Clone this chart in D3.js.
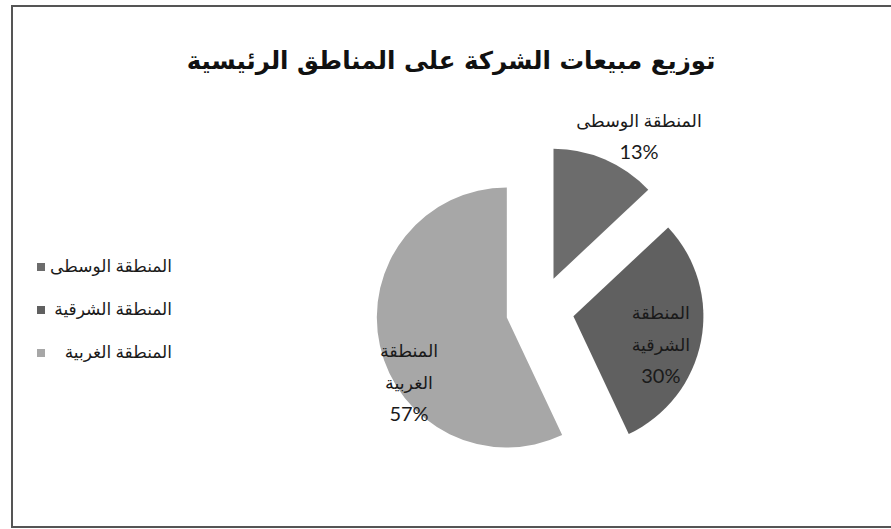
<!DOCTYPE html>
<html>
<head>
<meta charset="utf-8">
<script src="https://cdn.jsdelivr.net/npm/d3@7"></script>
<style>
  body { margin: 0; background: #fff; }
  #chart { width: 891px; height: 529px; }
</style>
</head>
<body>
<div id="chart"></div>
<script>
// chart data
const regions = ["المنطقة الوسطى", "المنطقة الشرقية", "المنطقة الغربية"];
const sales = [13, 30, 57];
const labelLines = [
    ["المنطقة الوسطى", "13%"],
    ["المنطقة", "الشرقية", "30%"],
    ["المنطقة", "الغربية", "57%"]
];

const width = 891, height = 529;
const colors = ["#6c6c6c", "#606060", "#a7a7a7"];
const cx = 540, cy = 310, radius = 130, explode = 34;
const font = "Lato, 'DejaVu Sans', sans-serif";

const svg = d3.select("#chart").append("svg")
    .attr("width", width)
    .attr("height", height);

svg.append("rect")
    .attr("width", width).attr("height", height)
    .attr("fill", "#fff");

// frame
svg.append("path")
    .attr("d", `M${width + 5},6 H12 V527 H${width + 5}`)
    .attr("fill", "none")
    .attr("stroke", "#555")
    .attr("stroke-width", 2);

svg.append("text")
    .attr("x", 451).attr("y", 69)
    .attr("text-anchor", "middle")
    .style("font-family", "'DejaVu Sans', sans-serif")
    .style("font-weight", "bold")
    .style("font-size", "24.5px")
    .attr("fill", "#111")
    .text("توزيع مبيعات الشركة على المناطق الرئيسية");

const pie = d3.pie().sort(null).value(d => d);
const arcs = pie(sales);
const arc = d3.arc().innerRadius(0).outerRadius(radius);

// label placement relative to each slice apex: [angle deg, distance]
const labelPolar = [[31, 166], [108, 92], [236, 118]];
const lineGap = 32;

const slices = svg.selectAll("g.slice")
    .data(arcs)
    .join("g")
    .attr("class", "slice")
    .attr("transform", d => {
        const mid = (d.startAngle + d.endAngle) / 2;
        return `translate(${cx + explode * Math.sin(mid)}, ${cy - explode * Math.cos(mid)})`;
    });

slices.append("path")
    .attr("d", arc)
    .attr("fill", (d, i) => colors[i]);

slices.each(function(d, i) {
    const a = labelPolar[i][0] * Math.PI / 180;
    const lx = labelPolar[i][1] * Math.sin(a);
    const ly = -labelPolar[i][1] * Math.cos(a);
    const lines = labelLines[i];
    const t = d3.select(this).append("text")
        .attr("text-anchor", "middle")
        .style("font-family", font)
        .style("font-size", "17.5px")
        .attr("fill", "#1a1a1a");
    lines.forEach((s, k) => {
        const isPct = k === lines.length - 1;
        t.append("tspan")
            .attr("x", lx)
            .attr("y", ly + (k - (lines.length - 1) / 2) * lineGap + 6)
            .style("font-size", isPct ? "20px" : null)
            .text(s);
    });
});

// legend
const legend = svg.selectAll("g.legend")
    .data(regions)
    .join("g")
    .attr("class", "legend")
    .attr("transform", (d, i) => `translate(37, ${267 + i * 43})`);

legend.append("rect")
    .attr("x", 0).attr("y", -4)
    .attr("width", 8).attr("height", 8)
    .attr("fill", (d, i) => colors[i]);

legend.append("text")
    .attr("x", 135).attr("y", 5)
    .attr("text-anchor", "end")
    .style("font-family", font)
    .style("font-size", "17px")
    .attr("fill", "#1a1a1a")
    .text(d => d);
</script>
</body>
</html>
